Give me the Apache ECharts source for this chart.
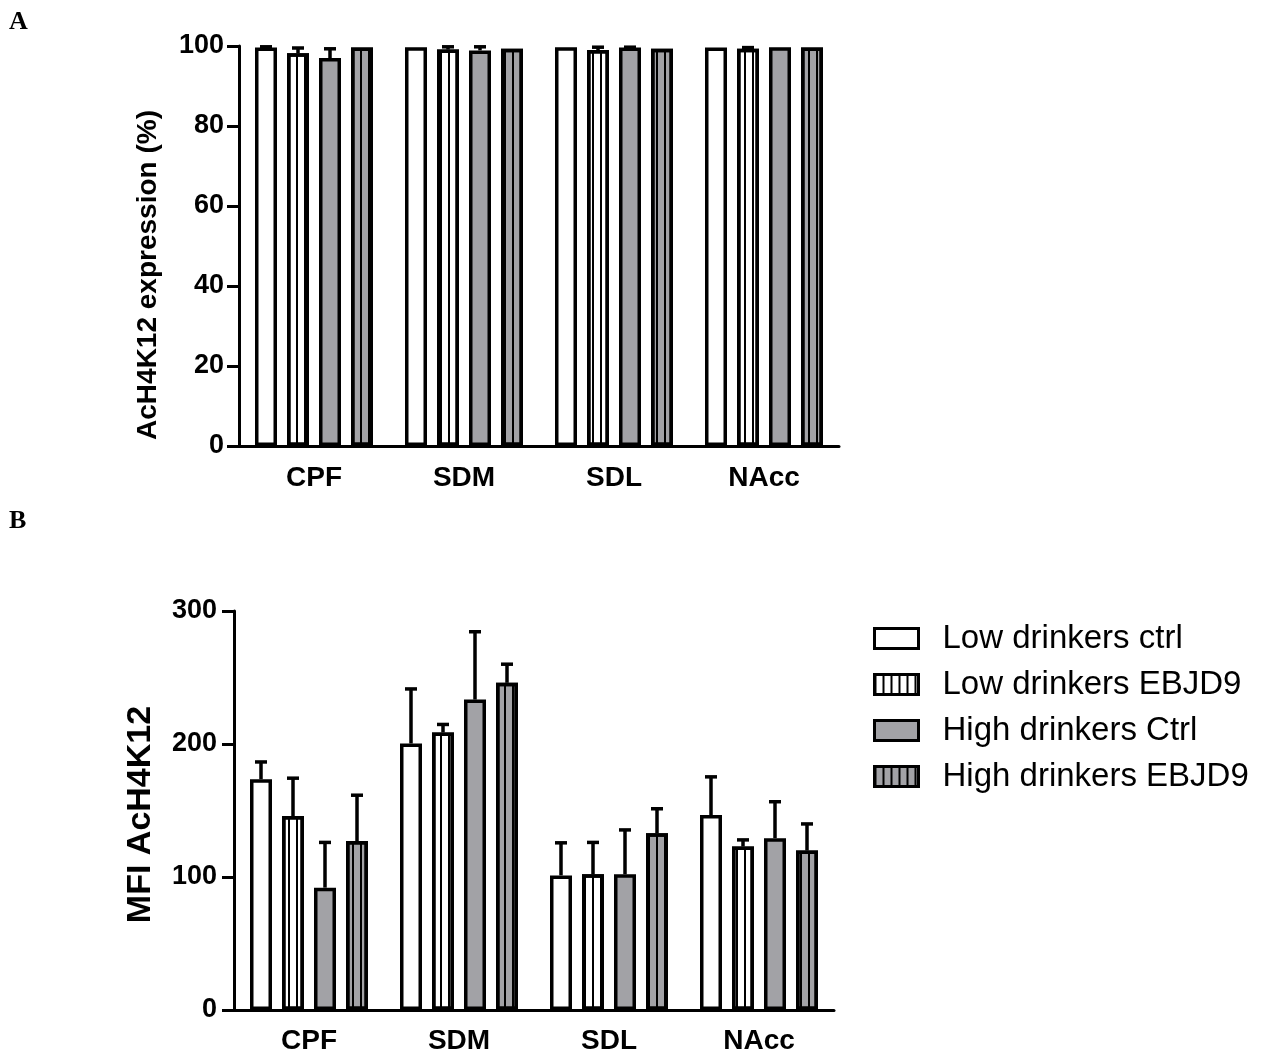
<!DOCTYPE html>
<html>
<head>
<meta charset="utf-8">
<script src="https://cdn.jsdelivr.net/npm/echarts@6/dist/echarts.min.js"></script>
<style>
html,body{margin:0;padding:0;background:#fff;}
#chart{width:1263px;height:1055px;}
</style>
</head>
<body>
<div id="chart"></div>
<script>
// ---------- data ----------
var categories = ['CPF', 'SDM', 'SDL', 'NAcc'];
var seriesNames = ['Low drinkers ctrl', 'Low drinkers EBJD9', 'High drinkers Ctrl', 'High drinkers EBJD9'];

// Panel A: AcH4K12 expression (%)
var lowCtrlA   = [99.6, 99.7, 99.7, 99.6];
var lowEbjdA   = [98.2, 99.1, 99.0, 99.3];
var highCtrlA  = [97.0, 98.9, 99.6, 99.7];
var highEbjdA  = [99.6, 99.3, 99.3, 99.6];
var lowCtrlAErr  = [0.2, 0, 0, 0];
var lowEbjdAErr  = [1.3, 0.7, 0.7, 0.3];
var highCtrlAErr = [2.3, 0.9, 0.1, 0];
var highEbjdAErr = [0, 0, 0, 0];
var yTicksA = {min: 0, max: 100, interval: 20};

// Panel B: MFI AcH4K12
var lowCtrlB   = [173.5, 200.4, 101.2, 146.6];
var lowEbjdB   = [145.8, 208.7, 102.0, 122.9];
var highCtrlB  = [92.0, 233.4, 102.0, 129.2];
var highEbjdB  = [127.0, 246.0, 132.9, 119.9];
var lowCtrlBErr  = [13.0, 41.0, 24.5, 28.7];
var lowEbjdBErr  = [28.5, 6.0, 24.0, 5.0];
var highCtrlBErr = [34.0, 51.0, 33.4, 27.4];
var highEbjdBErr = [34.5, 14.0, 18.4, 20.0];
var yTicksB = {min: 0, max: 300, interval: 100};

// ---------- styles ----------
var GREY = '#a2a2a6';
var BAR_W = 22, BAR_GAP_PX = 10;
var STEP = BAR_W + BAR_GAP_PX;
var FONT = "'Liberation Sans', Arial, sans-serif";
var stripeDecal = {
  symbol: 'rect', symbolSize: 1, color: '#000',
  dashArrayX: [2, 6], dashArrayY: [4, 0], rotation: 0
};
var styles = [
  {color: '#fff', borderColor: '#000', borderWidth: 3.5},
  {color: '#fff', borderColor: '#000', borderWidth: 3.5, decal: stripeDecal},
  {color: GREY, borderColor: '#000', borderWidth: 3.5},
  {color: GREY, borderColor: '#000', borderWidth: 3.5, decal: stripeDecal}
];

function errRender(k) {
  return function (params, api) {
    var idx = api.value(0), m = api.value(1), e = api.value(2);
    if (!(e > 0)) return null;
    var base = api.coord([idx, m]);
    var top = api.coord([idx, m + e]);
    var x = base[0] + (k - 1.5) * STEP;
    return {
      type: 'group',
      children: [
        {type: 'line', shape: {x1: x, y1: base[1], x2: x, y2: top[1]}, style: {stroke: '#000', lineWidth: 3.5}},
        {type: 'line', shape: {x1: x - 6, y1: top[1], x2: x + 6, y2: top[1]}, style: {stroke: '#000', lineWidth: 3.5}}
      ]
    };
  };
}

function makeSeries(panel, means, errs) {
  var out = [];
  for (var k = 0; k < 4; k++) {
    out.push({
      name: seriesNames[k], type: 'bar', xAxisIndex: panel, yAxisIndex: panel,
      barWidth: BAR_W, barGap: (BAR_GAP_PX / BAR_W * 100) + '%',
      itemStyle: styles[k], data: means[k], z: 2, silent: true
    });
  }
  for (var j = 0; j < 4; j++) {
    out.push({
      name: 'err' + panel + '_' + j, type: 'custom', xAxisIndex: panel, yAxisIndex: panel,
      renderItem: errRender(j), z: 5, silent: true,
      data: means[j].map(function (v, i) { return [i, v, errs[j][i]]; })
    });
  }
  return out;
}

function xAxisCfg(grid, margin) {
  return {
    type: 'category', gridIndex: grid, data: categories,
    axisLine: {lineStyle: {color: '#000', width: 3}},
    axisTick: {alignWithLabel: true, length: 11, lineStyle: {color: '#000', width: 3}},
    axisLabel: {color: '#000', fontFamily: FONT, fontWeight: 'bold', fontSize: 28, margin: margin},
    splitLine: {show: false}
  };
}
function yAxisCfg(grid, t, name, gap, nameSize, namePad, labelMargin) {
  return {
    type: 'value', gridIndex: grid, min: t.min, max: t.max, interval: t.interval,
    name: name, nameLocation: 'middle', nameGap: gap, nameRotate: 90,
    nameTextStyle: {color: '#000', fontFamily: FONT, fontWeight: 'bold', fontSize: nameSize, padding: namePad},
    axisLine: {show: true, lineStyle: {color: '#000', width: 3}},
    axisTick: {show: true, length: 12, lineStyle: {color: '#000', width: 3}},
    axisLabel: {color: '#000', fontFamily: FONT, fontWeight: 'bold', fontSize: 27, margin: labelMargin},
    splitLine: {show: false}
  };
}

var option = {
  backgroundColor: '#fff',
  animation: false,
  title: [
    {text: 'A', left: 9, top: 9, padding: 0, textStyle: {fontFamily: "'Liberation Serif', 'Times New Roman', serif", fontWeight: 'bold', fontSize: 26, color: '#000'}},
    {text: 'B', left: 9, top: 508, padding: 0, textStyle: {fontFamily: "'Liberation Serif', 'Times New Roman', serif", fontWeight: 'bold', fontSize: 26, color: '#000'}}
  ],
  legend: {
    data: seriesNames, orient: 'vertical', left: 873, top: 622, padding: 0,
    itemWidth: 44, itemHeight: 20, itemGap: 13, icon: 'rect',
    itemStyle: {borderWidth: 3, borderColor: '#000'},
    textStyle: {color: '#000', fontFamily: FONT, fontSize: 33, padding: [0, 0, 0, 19]},
    selectedMode: false
  },
  grid: [
    {left: 239, width: 600, top: 46, height: 400},
    {left: 234, width: 600, top: 611, height: 401}
  ],
  xAxis: [xAxisCfg(0, 18), xAxisCfg(1, 17)],
  yAxis: [
    yAxisCfg(0, yTicksA, 'AcH4K12 expression (%)', 77, 28, [0, 58, 0, 0], 15),
    yAxisCfg(1, yTicksB, 'MFI AcH4K12', 76, 34, [0, 8, 0, 0], 17)
  ],
  series: [].concat(
    makeSeries(0, [lowCtrlA, lowEbjdA, highCtrlA, highEbjdA], [lowCtrlAErr, lowEbjdAErr, highCtrlAErr, highEbjdAErr]),
    makeSeries(1, [lowCtrlB, lowEbjdB, highCtrlB, highEbjdB], [lowCtrlBErr, lowEbjdBErr, highCtrlBErr, highEbjdBErr])
  )
};

var chart = echarts.init(document.getElementById('chart'), null, {renderer: 'canvas'});
chart.setOption(option);
</script>
</body>
</html>
